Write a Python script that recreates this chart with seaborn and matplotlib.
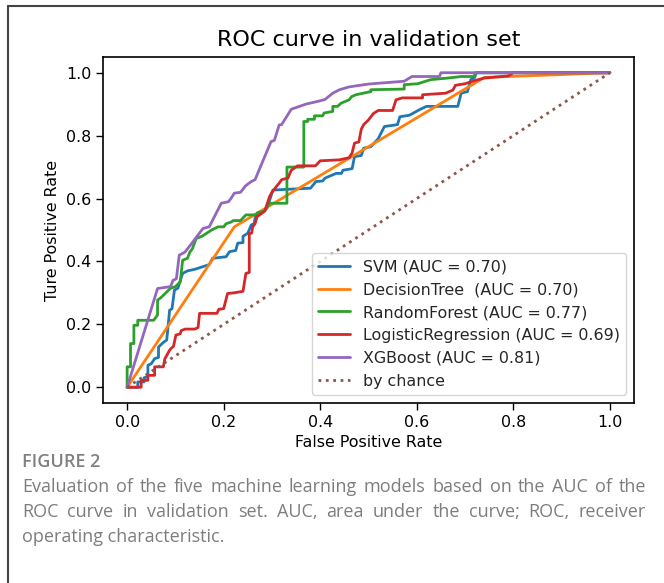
import numpy as np
import pandas as pd
import seaborn as sns
import matplotlib
matplotlib.use("Agg")
import matplotlib.pyplot as plt
from matplotlib.lines import Line2D

# ==========================================
# DATA
# ==========================================
svm_fpr = [0, 0.022, 0.022, 0.035, 0.035, 0.043, 0.043, 0.05, 0.057, 0.065, 0.065, 0.076, 0.082,
           0.088, 0.093, 0.098, 0.105, 0.115, 0.125, 0.14, 0.16, 0.17, 0.177, 0.205, 0.212, 0.225,
           0.229, 0.24, 0.24, 0.25, 0.257, 0.263, 0.266, 0.29, 0.302, 0.38, 0.391, 0.405, 0.41,
           0.433, 0.444, 0.447, 0.466, 0.471, 0.485, 0.49, 0.505, 0.52, 0.533, 0.56, 0.565, 0.585,
           0.605, 0.62, 0.685, 0.692, 0.705, 0.712, 0.72, 0.723, 1.0]
svm_tpr = [0, 0, 0.017, 0.017, 0.03, 0.035, 0.07, 0.075, 0.091, 0.095, 0.128, 0.144, 0.15,
           0.245, 0.25, 0.309, 0.315, 0.362, 0.37, 0.375, 0.385, 0.39, 0.41, 0.415, 0.431, 0.435,
           0.458, 0.46, 0.48, 0.49, 0.516, 0.52, 0.545, 0.57, 0.627, 0.633, 0.654, 0.656, 0.665,
           0.68, 0.68, 0.69, 0.695, 0.733, 0.737, 0.76, 0.765, 0.79, 0.829, 0.835, 0.86, 0.865,
           0.882, 0.893, 0.893, 0.935, 0.94, 0.978, 0.985, 1.0, 1.0]

dt_fpr = [0, 0.222, 0.74, 1.0]
dt_tpr = [0, 0.51, 0.985, 1.0]

rf_fpr = [0, 0, 0.007, 0.007, 0.014, 0.014, 0.022, 0.022, 0.055, 0.063, 0.063, 0.07, 0.08, 0.09,
          0.1, 0.11, 0.115, 0.125, 0.13, 0.135, 0.143, 0.155, 0.165, 0.175, 0.188, 0.2, 0.205,
          0.215, 0.22, 0.235, 0.246, 0.268, 0.27, 0.285, 0.295, 0.331, 0.331, 0.366, 0.366, 0.374,
          0.374, 0.388, 0.388, 0.405, 0.408, 0.426, 0.426, 0.436, 0.443, 0.46, 0.465, 0.474, 0.505,
          0.505, 0.574, 0.574, 0.602, 0.629, 0.664, 0.692, 0.72, 0.72, 1.0]
rf_tpr = [0, 0.065, 0.065, 0.139, 0.139, 0.197, 0.197, 0.213, 0.213, 0.23, 0.277, 0.285, 0.3, 0.315,
          0.32, 0.335, 0.404, 0.41, 0.43, 0.44, 0.473, 0.48, 0.49, 0.5, 0.51, 0.51, 0.52,
          0.525, 0.53, 0.53, 0.548, 0.548, 0.555, 0.56, 0.585, 0.585, 0.70, 0.70, 0.845, 0.845,
          0.852, 0.852, 0.863, 0.863, 0.872, 0.877, 0.893, 0.893, 0.903, 0.914, 0.924, 0.93, 0.94,
          0.946, 0.948, 0.962, 0.965, 0.978, 0.983, 0.988, 0.988, 1.0, 1.0]

lr_fpr = [0, 0.029, 0.029, 0.043, 0.043, 0.057, 0.057, 0.075, 0.078, 0.088, 0.092, 0.096, 0.101,
          0.11, 0.112, 0.12, 0.14, 0.147, 0.15, 0.186, 0.19, 0.2, 0.208, 0.22, 0.24, 0.246, 0.253,
          0.253, 0.258, 0.26, 0.265, 0.269, 0.285, 0.295, 0.3, 0.31, 0.315, 0.32, 0.333, 0.34,
          0.353, 0.39, 0.4, 0.44, 0.46, 0.466, 0.471, 0.48, 0.485, 0.49, 0.5, 0.51, 0.52, 0.55,
          0.557, 0.57, 0.612, 0.612, 0.66, 0.675, 0.68, 0.7, 0.72, 0.74, 0.79, 0.8, 1.0]
lr_tpr = [0, 0, 0.022, 0.022, 0.038, 0.038, 0.065, 0.065, 0.09, 0.118, 0.125, 0.13, 0.166,
          0.17, 0.18, 0.185, 0.185, 0.19, 0.235, 0.235, 0.248, 0.25, 0.298, 0.3, 0.305, 0.362, 0.365,
          0.489, 0.49, 0.51, 0.52, 0.542, 0.56, 0.606, 0.62, 0.64, 0.649, 0.66, 0.665, 0.69,
          0.704, 0.704, 0.72, 0.723, 0.73, 0.745, 0.776, 0.78, 0.82, 0.835, 0.85, 0.87, 0.88, 0.88,
          0.914, 0.92, 0.92, 0.93, 0.935, 0.945, 0.96, 0.965, 0.975, 0.983, 0.99, 1.0, 1.0]

xgb_fpr = [0, 0.063, 0.09, 0.095, 0.102, 0.108, 0.12, 0.139, 0.157, 0.17, 0.195, 0.21, 0.215,
           0.222, 0.235, 0.245, 0.257, 0.265, 0.298, 0.305, 0.315, 0.32, 0.34, 0.37, 0.395, 0.41,
           0.426, 0.44, 0.46, 0.5, 0.574, 0.59, 0.647, 0.65, 1.0]
xgb_tpr = [0, 0.314, 0.32, 0.34, 0.345, 0.42, 0.43, 0.468, 0.505, 0.51, 0.585, 0.59, 0.6,
           0.617, 0.62, 0.64, 0.654, 0.66, 0.781, 0.785, 0.834, 0.835, 0.884, 0.9, 0.909, 0.915,
           0.935, 0.946, 0.955, 0.964, 0.973, 0.988, 0.988, 1.0, 1.0]

model_labels = ["SVM (AUC = 0.70)", "DecisionTree  (AUC = 0.70)", "RandomForest (AUC = 0.77)",
                "LogisticRegression (AUC = 0.69)", "XGBoost (AUC = 0.81)"]
chance_x = [0, 1]
chance_y = [0, 1]

caption_head = "FIGURE 2"
caption_lines = [
    "Evaluation of the five machine learning models based on the AUC of the",
    "ROC curve in validation set. AUC, area under the curve; ROC, receiver",
    "operating characteristic.",
]

# ==========================================
# PLOT
# ==========================================
sns.set_style("ticks")
plt.rcParams['font.family'] = ['DejaVu Sans']

curves = [(svm_fpr, svm_tpr), (dt_fpr, dt_tpr), (rf_fpr, rf_tpr), (lr_fpr, lr_tpr), (xgb_fpr, xgb_tpr)]
frames = []
for label, (fx, fy) in zip(model_labels, curves):
    frames.append(pd.DataFrame({"fpr": fx, "tpr": fy, "model": label}))
df = pd.concat(frames, ignore_index=True)

palette = dict(zip(model_labels, sns.color_palette("tab10", 5)))

fig = plt.figure(figsize=(6.64, 5.83), dpi=100)
ax = fig.add_axes([103 / 664, 1 - 403 / 583, (634 - 103) / 664, (403 - 57) / 583])

sns.lineplot(data=df, x="fpr", y="tpr", hue="model", hue_order=model_labels, palette=palette,
             sort=False, estimator=None, linewidth=2, ax=ax)
sns.lineplot(x=chance_x, y=chance_y, color=sns.color_palette("tab10")[5], linestyle=":",
             linewidth=2, label="by chance", ax=ax)

ax.set_xlim(-0.05, 1.05)
ax.set_ylim(-0.05, 1.05)
ax.set_xticks([0, 0.2, 0.4, 0.6, 0.8, 1.0])
ax.set_yticks([0, 0.2, 0.4, 0.6, 0.8, 1.0])
ax.set_xticklabels(["0.0", "0.2", "0.4", "0.6", "0.8", "1.0"])
ax.set_yticklabels(["0.0", "0.2", "0.4", "0.6", "0.8", "1.0"])
ax.tick_params(labelsize=11.4, length=5, width=1, color="black", labelcolor="black")
for sp in ax.spines.values():
    sp.set_color("black")
    sp.set_linewidth(1.2)
    sp.set_visible(True)
ax.set_xlabel("False Positive Rate", fontsize=11.4, color="black")
ax.set_ylabel("Ture Positive Rate", fontsize=11.4, color="black")
ax.set_title("ROC curve in validation set", fontsize=16, color="black", pad=8)

leg = ax.legend(loc="lower right", fontsize=11.4, frameon=True, fancybox=True, framealpha=0.8,
                edgecolor="#cccccc", handlelength=2.0, borderpad=0.4, labelspacing=0.5)

# outer frame of the figure panel
fig.add_artist(Line2D([8 / 664, 1.0], [1 - 6 / 583, 1 - 6 / 583], color="#444444", linewidth=1.5))
fig.add_artist(Line2D([8 / 664, 8 / 664], [0, 1 - 6 / 583], color="#444444", linewidth=1.5))

# caption (justified like the journal layout)
cap_font = ["Open Sans", "DejaVu Sans"]
cap_color = "#7d7d7d"
cap_size = 13
fig.text(22 / 664, 1 - 462 / 583, caption_head, fontsize=13, color="#808080",
         fontweight="semibold", family=cap_font, va="center", ha="left")

renderer = fig.canvas.get_renderer()
x0, x1 = 22, 646
line_y = [487, 512, 537]
for i, line in enumerate(caption_lines):
    yy = 1 - line_y[i] / 583
    if i == len(caption_lines) - 1:
        fig.text(x0 / 664, yy, line, fontsize=cap_size, color=cap_color, family=cap_font,
                 va="center", ha="left")
        continue
    words = line.split(" ")
    texts = [fig.text(0, yy, w, fontsize=cap_size, color=cap_color, family=cap_font,
                      va="center", ha="left") for w in words]
    widths = [t.get_window_extent(renderer).width for t in texts]
    gap = (x1 - x0 - sum(widths)) / (len(words) - 1)
    pos = x0
    for t, w in zip(texts, widths):
        t.set_x(pos / 664)
        pos += w + gap

fig.savefig("out.png", dpi=100)
